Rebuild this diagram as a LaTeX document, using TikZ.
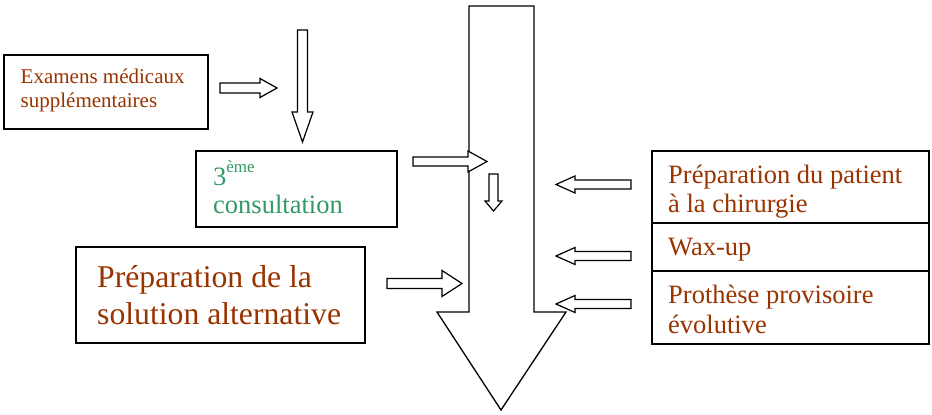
\documentclass[tikz,border=0pt]{standalone}
\usepackage{fontspec}
\setmainfont{Liberation Serif}
\definecolor{textbrown}{HTML}{993300}
\definecolor{textgreen}{HTML}{339966}

% Block arrows: start, tip, axis position, shaft half-width, head half-width, signed head length
\newcommand{\hblockarrow}[6]{%
  \draw[blockarrow] (#1,{#3-#4}) -- ({#2-(#6)},{#3-#4}) -- ({#2-(#6)},{#3-#5})
    -- (#2,#3) -- ({#2-(#6)},{#3+#5}) -- ({#2-(#6)},{#3+#4}) -- (#1,{#3+#4}) -- cycle;}
\newcommand{\vblockarrow}[6]{%
  \draw[blockarrow] ({#3-#4},#1) -- ({#3-#4},{#2-(#6)}) -- ({#3-#5},{#2-(#6)})
    -- (#3,#2) -- ({#3+#5},{#2-(#6)}) -- ({#3+#4},{#2-(#6)}) -- ({#3+#4},#1) -- cycle;}

\begin{document}
\begin{tikzpicture}[x=1pt,y=-1pt,
  box/.style={draw=black,line width=1.4pt,fill=white},
  blockarrow/.style={draw=black,line width=1.2pt,fill=white,line join=miter},
  bigarrow/.style={draw=black,line width=1.3pt,fill=white,line join=miter},
  txt/.style={anchor=base west,inner sep=0pt,text=textbrown},
  gtxt/.style={anchor=base west,inner sep=0pt,text=textgreen}]
\useasboundingbox (0,0) rectangle (932,415);

% main downward arrow
\draw[bigarrow] (469,6) -- (534,6) -- (534,312) -- (566,312) -- (501,410)
  -- (437,312) -- (469,312) -- cycle;

% boxes
\draw[box] (4,55) rectangle (208,129);
\draw[box] (196,151) rectangle (397,227);
\draw[box] (76,247) rectangle (365,343);
\draw[box] (652,151) rectangle (929,223);
\draw[box] (652,223) rectangle (929,271);
\draw[box] (652,271) rectangle (929,344);

% texts
\node[txt,font=\fontsize{21}{24}\selectfont] (exam1) at (20.5,83) {Examens médicaux};
\node[txt,font=\fontsize{21}{24}\selectfont] (exam2) at (20.5,107) {supplémentaires};
\node[gtxt,font=\fontsize{26.5}{30}\selectfont] (cons1) at (213,185)
  {3\raisebox{13pt}{\fontsize{17}{17}\selectfont ème}};
\node[gtxt,font=\fontsize{26.5}{30}\selectfont] (cons2) at (213,213) {consultation};
\node[txt,font=\fontsize{31.7}{36}\selectfont] (alt1) at (97,287) {Préparation de la};
\node[txt,font=\fontsize{31.7}{36}\selectfont] (alt2) at (97,324) {solution alternative};
\node[txt,font=\fontsize{26.5}{30}\selectfont] (prep1) at (668,183) {Préparation du patient};
\node[txt,font=\fontsize{26.5}{30}\selectfont] (prep2) at (668,212) {à la chirurgie};
\node[txt,font=\fontsize{26.5}{30}\selectfont] (wax) at (668,255) {Wax-up};
\node[txt,font=\fontsize{26.5}{30}\selectfont] (proth1) at (668,303) {Prothèse provisoire};
\node[txt,font=\fontsize{26.5}{30}\selectfont] (proth2) at (668,333) {évolutive};

% small block arrows
\hblockarrow{220}{277}{88}{5}{9.5}{17}
\vblockarrow{30}{142}{302.5}{5}{10.5}{30}
\hblockarrow{413}{487}{161.5}{4.5}{10.5}{19}
\vblockarrow{174}{211}{493.5}{4.5}{8.5}{10}
\hblockarrow{387}{462}{283.5}{5}{13}{20}
\hblockarrow{631}{556}{184.5}{4.5}{8.5}{-19}
\hblockarrow{631}{556}{256}{4.5}{8.5}{-19}
\hblockarrow{631}{556}{304}{4.5}{8.5}{-19}
\end{tikzpicture}
\end{document}
